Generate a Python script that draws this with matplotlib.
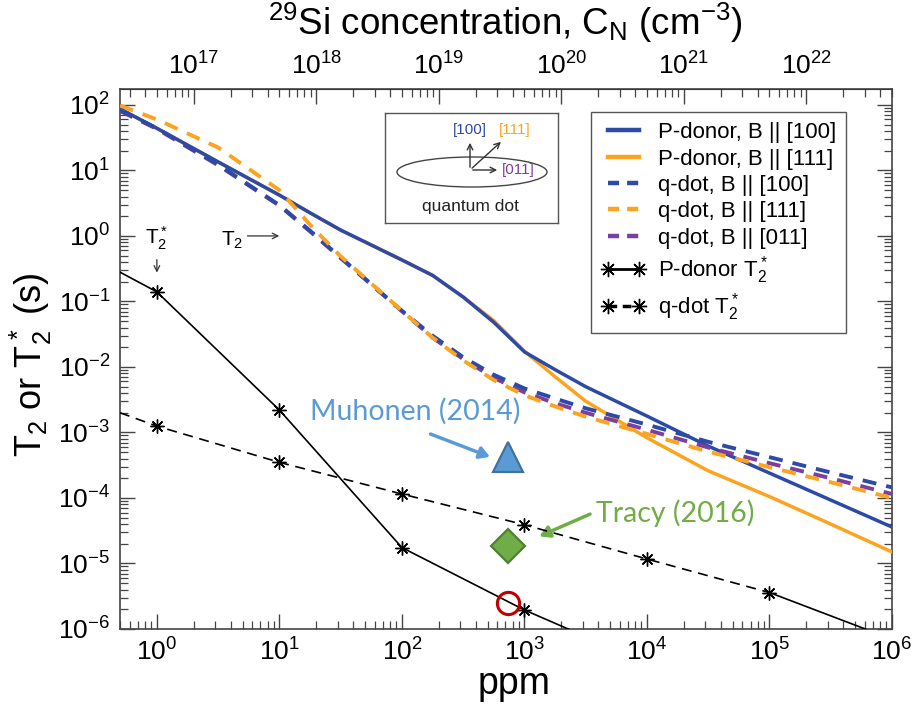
import numpy as np
import matplotlib
matplotlib.use('Agg')
import matplotlib.pyplot as plt
from matplotlib import font_manager
from matplotlib.patches import Ellipse
from matplotlib.lines import Line2D

names = {f.name for f in font_manager.fontManager.ttflist}
NARROW = 'Liberation Sans Narrow' if 'Liberation Sans Narrow' in names else 'Liberation Sans'
REG = 'Liberation Sans'
CAL = 'Lato' if 'Lato' in names else 'DejaVu Sans'

plt.rcParams['font.family'] = [REG, 'DejaVu Sans']
plt.rcParams['mathtext.default'] = 'regular'

# ---------------- data ----------------
ppm_t2 = [0.5, 1, 3.16, 10, 17.8, 31.6, 100, 178, 316, 562, 1000, 1778, 3162,
          1e4, 3.16e4, 1e5, 3.16e5, 1e6]
p_donor_100 = [87, 44, 13.5, 4.2, 2.25, 1.23, 0.43, 0.25, 0.117, 0.048, 0.017,
               0.0091, 0.0050, 1.78e-3, 6.2e-4, 2.4e-4, 9.3e-5, 3.6e-5]
p_donor_111 = [87, 44, 13.5, 4.2, 2.25, 1.23, 0.43, 0.25, 0.117, 0.051, 0.0174,
               0.0071, 0.0030, 8.3e-4, 2.6e-4, 1.05e-4, 4.0e-5, 1.5e-5]
qdot_100 = [83, 44, 12.3, 2.95, 1.2, 0.47, 0.072, 0.030, 0.0141, 0.0076, 0.0047,
            0.0033, 0.00234, 1.32e-3, 7.2e-4, 4.2e-4, 2.45e-4, 1.45e-4]
qdot_111 = [98, 60, 22.4, 5.0, 1.48, 0.49, 0.072, 0.028, 0.0126, 0.0063, 0.0037,
            0.0025, 0.00174, 9.5e-4, 5.1e-4, 2.95e-4, 1.74e-4, 1.0e-4]
qdot_011 = [81, 43, 12.0, 2.9, 1.17, 0.46, 0.071, 0.028, 0.0132, 0.0068, 0.0041,
            0.0028, 0.0020, 1.1e-3, 5.9e-4, 3.4e-4, 2.0e-4, 1.15e-4]

ppm_pT2s = [0.5, 1, 10, 100, 1000, 1e4]
p_donor_T2s = [0.28, 0.14, 2.2e-3, 1.75e-5, 1.95e-6, 3.0e-7]

ppm_qT2s = [0.5, 1, 10, 100, 1000, 1e4, 1e5, 1e6]
qdot_T2s = [2.0e-3, 1.25e-3, 3.5e-4, 1.15e-4, 3.9e-5, 1.17e-5, 3.6e-6, 7.0e-7]

exp_ppm = [740, 740, 740]
exp_T = [4.2e-4, 1.85e-5, 2.5e-6]   # Muhonen triangle, Tracy diamond, circle

x_ticks = [1e0, 1e1, 1e2, 1e3, 1e4, 1e5, 1e6]
y_ticks = [1e-6, 1e-5, 1e-4, 1e-3, 1e-2, 1e-1, 1e0, 1e1, 1e2]
top_ticks = [1e17, 1e18, 1e19, 1e20, 1e21, 1e22]

BLUE = '#2C4AA6'
ORANGE = '#FCA41F'
PURPLE = '#7B3FA0'

# ---------------- figure ----------------
fig = plt.figure(figsize=(9.14, 7.06), dpi=100)
ax = fig.add_axes([120/914, 77/706, 772/914, 540/706])
ax.set_xscale('log')
ax.set_yscale('log')
ax.set_xlim(0.5, 1e6)
ax.set_ylim(1e-6, 1.75e2)

dash_c = (3.6, 2.6)
ax.plot(ppm_t2, p_donor_111, color=ORANGE, lw=2.5, zorder=3)
ax.plot(ppm_t2, p_donor_100, color=BLUE, lw=2.5, zorder=3)
ax.plot(ppm_t2, qdot_011, color=PURPLE, lw=2.8, dashes=dash_c, zorder=3)
ax.plot(ppm_t2, qdot_100, color=BLUE, lw=2.8, dashes=dash_c, zorder=3)
ax.plot(ppm_t2, qdot_111, color=ORANGE, lw=2.8, dashes=dash_c, zorder=3)

ast = (8, 2, 0)
ax.plot(ppm_pT2s, p_donor_T2s, color='black', lw=1.2, marker=ast, ms=10,
        mew=1.0, markevery=[1, 2, 3, 4], zorder=4)
ax.plot(ppm_qT2s[:7], qdot_T2s[:7], color='black', lw=1.2, dashes=(6, 4),
        marker=ast, ms=10, mew=1.0, markevery=[1, 2, 3, 4, 5, 6], zorder=4)
ax.plot(ppm_qT2s[6:], qdot_T2s[6:], color='black', lw=1.2, zorder=4)

# experimental points
ax.plot(exp_ppm[0], exp_T[0], marker='^', ms=21, mfc='#5B9BD5', mec='#41719C',
        mew=1.6, ls='none', zorder=6, clip_on=False)
ax.plot(exp_ppm[1], exp_T[1], marker='D', ms=17, mfc='#70AD47', mec='#507E32',
        mew=1.6, ls='none', zorder=6)
ax.plot(exp_ppm[2], exp_T[2], marker='o', ms=16, mfc='none', mec='#C00000',
        mew=2.2, ls='none', zorder=6)

# annotations
ax.text(128, 2.1e-3, 'Muhonen (2014)', color='#5B9BD5', fontsize=20.5,
        family=[CAL, 'DejaVu Sans'], ha='center', va='center')
ax.annotate('', xy=(550, 4.1e-4), xytext=(163, 9.8e-4),
            arrowprops=dict(arrowstyle='-|>,head_length=0.6,head_width=0.35',
                            color='#5B9BD5', lw=2.5))
ax.text(1.7e4, 5.9e-5, 'Tracy (2016)', color='#70AD47', fontsize=20.5,
        family=[CAL, 'DejaVu Sans'], ha='center', va='center')
ax.annotate('', xy=(1260, 2.5e-5), xytext=(3600, 5.9e-5),
            arrowprops=dict(arrowstyle='-|>,head_length=0.6,head_width=0.35',
                            color='#70AD47', lw=2.5))

ax.text(1.0, 0.93, 'T$_2^*$', fontsize=15, ha='center', va='center')
ax.annotate('', xy=(1.0, 0.25), xytext=(1.0, 0.48),
            arrowprops=dict(arrowstyle='->', color='#333333', lw=0.9))
ax.text(4.1, 0.87, 'T$_2$', fontsize=15, ha='center', va='center')
ax.annotate('', xy=(10.5, 1.0), xytext=(5.2, 1.0),
            arrowprops=dict(arrowstyle='->', color='#333333', lw=0.9))

# ticks
TL = 19
ax.set_xticks(x_ticks)
ax.set_yticks(y_ticks)
for s in ax.spines.values():
    s.set_linewidth(1.2)
    s.set_color('#444444')
ax.tick_params(which='both', direction='in', top=False, right=True,
               color='#444444')
ax.tick_params(which='major', length=11, width=1.0, pad=7,
               labelsize=TL, labelfontfamily=NARROW)
ax.tick_params(which='minor', length=6, width=0.9)

sec = ax.secondary_xaxis('top', functions=(lambda p: np.asarray(p) * 5e16,
                                            lambda c: np.asarray(c) / 5e16))
sec.set_xticks(top_ticks)
sec.tick_params(which='both', direction='in', color='#444444')
sec.tick_params(which='major', length=11, width=1.0, pad=7,
                labelsize=TL, labelfontfamily=NARROW)
sec.tick_params(which='minor', length=6, width=0.9)

ax.set_xlabel('ppm', fontsize=27, family=NARROW)
ax.xaxis.set_label_coords(0.51, -0.068)
ax.set_ylabel('T$_2$ or T$_2^*$ (s)', fontsize=26, family=NARROW)
ax.yaxis.set_label_coords(-0.085, 0.49)
fig.text(0.553, 0.968, '$^{29}$Si concentration, C$_N$ (cm$^{-3}$)',
         fontsize=26.5, family=NARROW, ha='center', va='center')

# legend
handles = [
    Line2D([], [], color=BLUE, lw=3.2),
    Line2D([], [], color=ORANGE, lw=3.2),
    Line2D([], [], color=BLUE, lw=3.2, dashes=(2.5, 1.8)),
    Line2D([], [], color=ORANGE, lw=3.2, dashes=(2.5, 1.8)),
    Line2D([], [], color=PURPLE, lw=3.2, dashes=(2.5, 1.8)),
    Line2D([], [], color='black', lw=2.0, marker=ast, ms=11, mew=1.0),
    Line2D([], [], color='black', lw=2.5, dashes=(2.5, 1.6), marker=ast, ms=11, mew=1.0),
]
labels = ['P-donor, B || [100]', 'P-donor, B || [111]', 'q-dot, B || [100]',
          'q-dot, B || [111]', 'q-dot, B || [011]', 'P-donor T$_2^*$',
          'q-dot T$_2^*$']
leg = ax.legend(handles, labels, loc='upper left', bbox_to_anchor=(0.610, 0.957),
                borderaxespad=0, fontsize=16, numpoints=2, handlelength=2.0,
                handletextpad=0.55, labelspacing=0.24, borderpad=0.45,
                fancybox=False, framealpha=1, edgecolor='#555555')
leg.get_frame().set_linewidth(1.0)

# inset: quantum dot sketch
ins = fig.add_axes([385/914, (706-223)/706, 173/914, 110/706])
ins.set_xlim(0, 173)
ins.set_ylim(110, 0)
ins.set_xticks([])
ins.set_yticks([])
for s in ins.spines.values():
    s.set_linewidth(1.0)
    s.set_color('#555555')
ins.add_patch(Ellipse((87, 59), 150, 30, fill=False, ec='#444444', lw=1.0))
aprops = dict(arrowstyle='->', color='#333333', lw=1.0)
ins.annotate('', xy=(85, 27), xytext=(85, 57), arrowprops=aprops)
ins.annotate('', xy=(118, 27), xytext=(85, 57), arrowprops=aprops)
ins.annotate('', xy=(115, 57), xytext=(85, 57), arrowprops=aprops)
ins.text(85, 17, '[100]', color=BLUE, fontsize=11, ha='center', va='center')
ins.text(130, 17, '[111]', color=ORANGE, fontsize=11, ha='center', va='center')
ins.text(117, 57, '[011]', color=PURPLE, fontsize=11, ha='left', va='center')
ins.text(85, 94, 'quantum dot', color='#222222', fontsize=12.5, ha='center',
         va='center')

fig.savefig('out.png', dpi=100)
